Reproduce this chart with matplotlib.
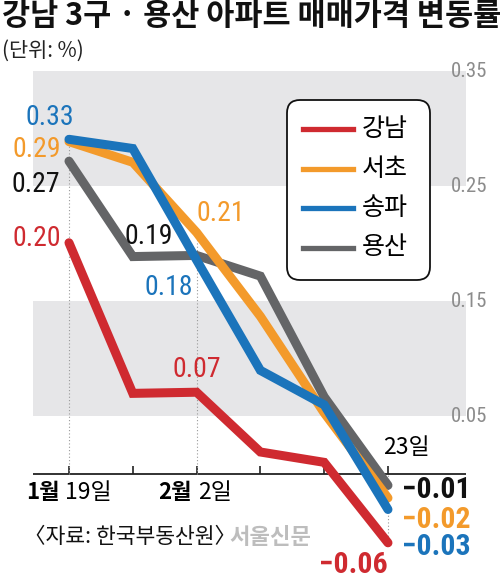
import matplotlib
matplotlib.use("Agg")
import matplotlib.pyplot as plt
from matplotlib import font_manager
from matplotlib.font_manager import FontProperties
from matplotlib.patches import FancyBboxPatch
from matplotlib.lines import Line2D

# 주간 아파트 매매가격 변동률 (1/19 ~ 2/23)
weeks = [0, 1, 2, 3, 4, 5]
gangnam = [0.201, 0.070, 0.071, 0.019, 0.010, -0.060]
seocho = [0.289, 0.271, 0.210, 0.137, 0.053, -0.021]
songpa = [0.291, 0.283, 0.186, 0.090, 0.060, -0.031]
yongsan = [0.272, 0.189, 0.190, 0.172, 0.067, -0.010]

names = ["강남", "서초", "송파", "용산"]
colors = ["#cf2a30", "#f39a2b", "#1b74bb", "#646567"]

y_ticks = [0.35, 0.25, 0.15, 0.05]
bands = [(0.25, 0.35), (0.05, 0.15)]

# (주차 index, 라벨)
point_labels = {
    "강남": [(0, "0.20"), (2, "0.07"), (5, "\u22120.06")],
    "서초": [(0, "0.29"), (2, "0.21"), (5, "\u22120.02")],
    "송파": [(0, "0.33"), (2, "0.18"), (5, "\u22120.03")],
    "용산": [(0, "0.27"), (1, "0.19"), (5, "\u22120.01")],
}
# 라벨 위치 (pixel offset)
label_offsets = {
    "강남": [(-32, 4, "normal"), (0, 23, "normal"), (-35, -22, "bold")],
    "서초": [(-32, -8, "normal"), (24, 19, "normal"), (48, -22, "bold")],
    "송파": [(-19, 22, "normal"), (-28, -27, "normal"), (48, -38, "bold")],
    "용산": [(-33, -23, "normal"), (16, 20, "normal"), (48, -5, "bold")],
}
label_colors = {"강남": "#cf2a30", "서초": "#f39a2b", "송파": "#1b74bb", "용산": "#111111"}

# 숫자용 좁은 글꼴 찾기
available = {f.name for f in font_manager.fontManager.ttflist}
NUM, STRETCH, NUM_SCALE = "Liberation Sans", "normal", 0.88
if "Liberation Sans Narrow" in available:
    NUM, STRETCH, NUM_SCALE = "Liberation Sans Narrow", "normal", 1.0
elif "Roboto Condensed" in available:
    NUM, STRETCH, NUM_SCALE = "Roboto Condensed", "normal", 1.0
else:
    p = font_manager.findfont(FontProperties(family="DejaVu Sans", stretch="condensed"))
    if "Condensed" in p:
        NUM, STRETCH, NUM_SCALE = "DejaVu Sans", "condensed", 0.92
KR = "Noto Sans CJK KR"
plt.rcParams["font.family"] = [KR, "DejaVu Sans"]


def fx(px):
    return px / 500


def fy(py):
    return 1 - py / 580


fig = plt.figure(figsize=(5, 5.8), dpi=100)
ax = fig.add_axes([fx(33), fy(575), fx(466) - fx(33), fy(60) - fy(575)])
ax.set_xlim(-0.564, 6.223)
ax.set_ylim(-0.088, 0.360)
ax.axis("off")

for lo, hi in bands:
    ax.axhspan(lo, hi, color="#e6e6e8", lw=0, zorder=0)

for v in y_ticks:
    ax.text(1.049, v, f"{v:.2f}", transform=ax.get_yaxis_transform(),
            ha="right", va="center", fontsize=15 * NUM_SCALE, color="#8c8c8c",
            family=[NUM, KR], fontstretch=STRETCH, clip_on=False)

# x축
ax.axhline(0, color="#222222", lw=1.3, zorder=1)
ax.vlines(weeks, 0, 0.007, color="#222222", lw=1.2, zorder=1)

series = [gangnam, seocho, songpa, yongsan]
ax.vlines(0, 0, max(s[0] for s in series), color="#999999", lw=0.8,
          linestyles=(0, (1, 2)), zorder=1)
ax.vlines(2, 0, max(s[2] for s in series), color="#999999", lw=0.8,
          linestyles=(0, (1, 2)), zorder=1)
ax.vlines(5, min(s[5] for s in series), 0, color="#999999", lw=0.8,
          linestyles=(0, (1, 2)), zorder=1)

zs = {"강남": 3.5, "서초": 3, "송파": 4, "용산": 2}
for name, vals, c in zip(names, series, colors):
    ax.plot(weeks, vals, color=c, lw=6.5, solid_capstyle="round",
            solid_joinstyle="miter", zorder=zs[name])
    for (i, txt), (dx, dy, w) in zip(point_labels[name], label_offsets[name]):
        fs = (21.5 if w == "bold" else 20) * NUM_SCALE
        ax.annotate(txt, (weeks[i], vals[i]), xytext=(dx, dy),
                    textcoords="offset pixels", ha="center", va="center",
                    fontsize=fs, fontweight=w, color=label_colors[name],
                    family=[NUM, KR], fontstretch=STRETCH, zorder=6)

# x 라벨
ax.annotate("1월", (0, 0), xytext=(-9, -19), textcoords="offset pixels",
            ha="right", va="center", fontsize=16, fontweight="bold")
ax.annotate("19일", (0, 0), xytext=(-4, -19), textcoords="offset pixels",
            ha="left", va="center", fontsize=16.5)
ax.annotate("2월", (2, 0), xytext=(-5, -19), textcoords="offset pixels",
            ha="right", va="center", fontsize=16, fontweight="bold")
ax.annotate("2일", (2, 0), xytext=(2, -19), textcoords="offset pixels",
            ha="left", va="center", fontsize=16.5)
ax.annotate("23일", (5, 0), xytext=(-5, 26), textcoords="offset pixels",
            ha="left", va="center", fontsize=16.5)

# 범례
box = FancyBboxPatch((fx(287), fy(280)), fx(430) - fx(287), fy(100) - fy(280),
                     boxstyle="round,pad=0,rounding_size=0.026",
                     mutation_aspect=500 / 580, transform=fig.transFigure,
                     facecolor="white", edgecolor="#111111", lw=1.3, zorder=5)
fig.add_artist(box)
for k, (name, c) in enumerate(zip(names, colors)):
    ly = 129 + k * 39.5
    fig.add_artist(Line2D([fx(303), fx(353)], [fy(ly), fy(ly)], color=c, lw=3.8,
                          transform=fig.transFigure, zorder=6))
    fig.text(fx(362), fy(ly), name, ha="left", va="center", fontsize=18, zorder=6)

# 제목
fig.text(fx(2), fy(16), "강남 3구 · 용산 아파트 매매가격 변동률", ha="left", va="center",
         fontsize=22, fontweight="bold", color="#111111")
fig.text(fx(2), fy(51), "(단위: %)", ha="left", va="center", fontsize=15,
         color="#222222")
fig.text(fx(229), fy(537), "서울신문", ha="left", va="center", fontsize=16,
         fontweight="bold", color="#bdbdbd", zorder=1)
fig.text(fx(24), fy(537), "〈자료: 한국부동산원〉", ha="left", va="center", fontsize=15.5,
         color="#111111", zorder=2)

fig.savefig("out.png", dpi=100)
